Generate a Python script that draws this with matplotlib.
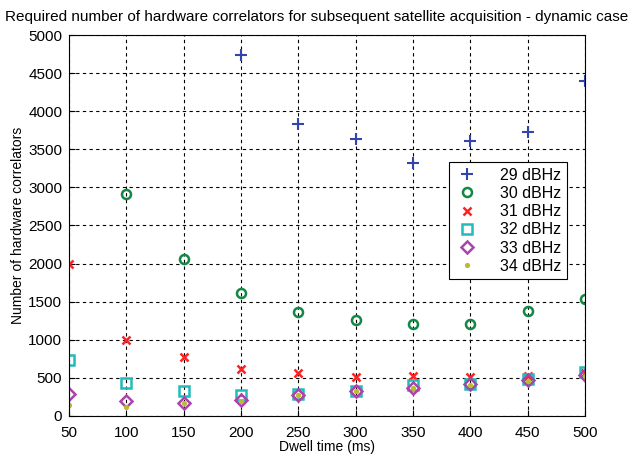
import numpy as np
import matplotlib
matplotlib.use("Agg")
import matplotlib.pyplot as plt

plt.rcParams['font.family'] = ['Liberation Sans', 'DejaVu Sans']

dwell = [50, 100, 150, 200, 250, 300, 350, 400, 450, 500]
nan = np.nan
c29 = [nan, nan, nan, 4740, 3830, 3640, 3320, 3610, 3730, 4390]
c30 = [nan, 2910, 2060, 1610, 1360, 1260, 1210, 1210, 1380, 1530]
c31 = [2000, 1000, 770, 610, 560, 510, 530, 510, 530, 560]
c32 = [730, 430, 320, 270, 290, 330, 400, 420, 490, 570]
c33 = [285, 200, 170, 210, 270, 320, 370, 420, 470, 540]
c34 = [145, 120, 170, 200, 270, 320, 360, 410, 460, 530]
labels = ['29 dBHz', '30 dBHz', '31 dBHz', '32 dBHz', '33 dBHz', '34 dBHz']
xticks = [50, 100, 150, 200, 250, 300, 350, 400, 450, 500]
yticks = [0, 500, 1000, 1500, 2000, 2500, 3000, 3500, 4000, 4500, 5000]

fig = plt.figure(figsize=(6.4, 4.55), dpi=100)
ax = fig.add_axes([0.108, 0.086, 0.806, 0.837])

ax.plot(dwell, c29, linestyle='none', marker='+', color='#3344aa', markersize=8, mew=1.5, label=labels[0])
ax.plot(dwell, c30, linestyle='none', marker='o', color='#118844', markersize=6.5, mew=1.8, mfc='none', label=labels[1])
ax.plot(dwell, c31, linestyle='none', marker='x', color='#ff2222', markersize=5.5, mew=1.8, label=labels[2])
ax.plot(dwell, c32, linestyle='none', marker='s', color='#22bbbb', markersize=7, mew=1.8, mfc='none', label=labels[3])
ax.plot(dwell, c33, linestyle='none', marker='D', color='#aa44aa', markersize=6, mew=1.8, mfc='none', label=labels[4])
ax.plot(dwell, c34, linestyle='none', marker='.', color='#bbbb33', markersize=5.5, label=labels[5])

ax.set_xlim(50, 500)
ax.set_ylim(0, 5000)
ax.set_xticks(xticks)
ax.set_yticks(yticks)
ax.tick_params(direction='in', labelsize=11, length=4)
ax.tick_params(axis='x', pad=7)
ax.tick_params(axis='y', pad=5)
ax.grid(True, linestyle=(0, (3, 3)), color='black', linewidth=0.8)
for s in ax.spines.values():
    s.set_linewidth(0.8)

ax.set_xlabel('Dwell time (ms)', fontsize=10, labelpad=0)
ax.set_ylabel('Number of hardware correlators', fontsize=10, labelpad=2)
fig.text(5 / 640, 1 - 17 / 455, 'Required number of hardware correlators for subsequent satellite acquisition - dynamic case',
         fontsize=11, ha='left', va='center')

leg = ax.legend(loc='upper left', bbox_to_anchor=(0.72, 0.687), fontsize=11.5,
                frameon=True, fancybox=False, edgecolor='black', framealpha=1,
                handlelength=1.6, handletextpad=1.3, borderpad=0.35, labelspacing=0.2)
leg.get_frame().set_linewidth(0.8)

fig.savefig('out.png', dpi=100)
